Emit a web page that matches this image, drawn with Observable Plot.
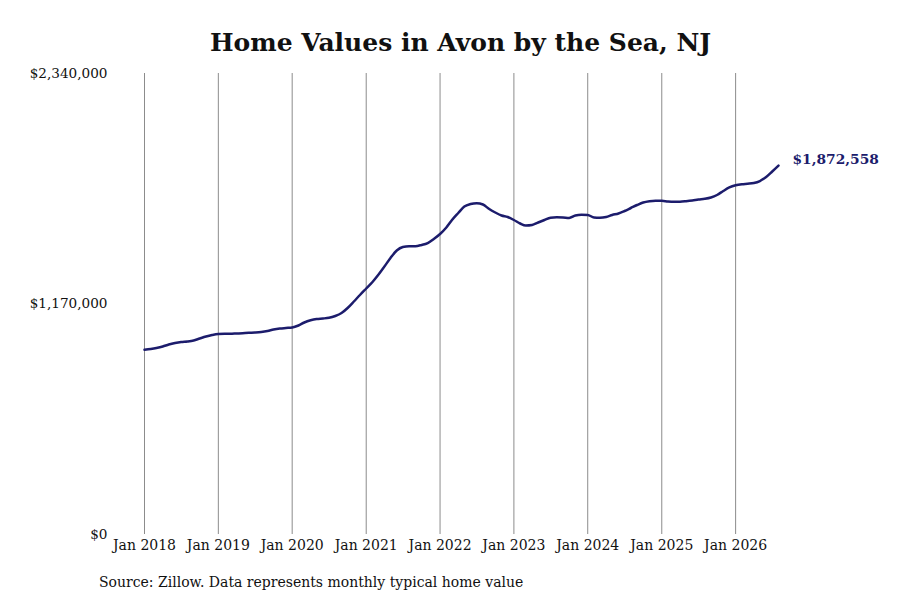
<!DOCTYPE html>
<html>
<head>
<meta charset="utf-8">
<script src="https://cdn.jsdelivr.net/npm/d3@7"></script>
<script src="https://cdn.jsdelivr.net/npm/@observablehq/plot@0.6"></script>
<style>
  body { margin: 0; background: #fff; width: 900px; }
  #title { height: 60px; box-sizing: border-box; padding-top: 28px; padding-left: 21px; line-height: 30px; text-align: center;
           font-family: "DejaVu Serif", serif; font-weight: bold; font-size: 25px; color: #111; }
  #caption { margin-top: 12px; padding-left: 99px; line-height: 20px; font-family: "DejaVu Serif", serif;
             font-size: 14px; color: #111; }
</style>
</head>
<body>
<div id="title">Home Values in Avon by the Sea, NJ</div>
<div id="chart"></div>
<div id="caption">Source: Zillow. Data represents monthly typical home value</div>
<script>
// Monthly typical home value, Jan 2018 – Aug 2026
const startMonth = "2018-01-01";
const values = [
  937500, 941600, 946700, 954300, 964400, 972000, 977100, 979700, 984700, 994900, 1005000, 1012600,
  1017700, 1018700, 1018700, 1020300, 1021800, 1023800, 1025300, 1027900, 1033000, 1040600, 1045600, 1048200,
  1050700, 1060900, 1076100, 1087300, 1093900, 1096400, 1100000, 1109100, 1124300, 1149700, 1182700, 1215700,
  1248700, 1281700, 1317200, 1360400, 1403500, 1441600, 1459300, 1463400, 1463400, 1469500, 1479600, 1499900,
  1525300, 1558300, 1596400, 1631900, 1664900, 1677600, 1681700, 1675100, 1652200, 1634400, 1619200, 1611600,
  1596400, 1578600, 1568500, 1571000, 1583700, 1596400, 1608100, 1610100, 1609100, 1606500, 1619200, 1622800,
  1621800, 1609100, 1607600, 1611600, 1621800, 1629400, 1642100, 1657300, 1672500, 1685200, 1691800, 1694400,
  1693800, 1690300, 1688800, 1689300, 1691800, 1695400, 1700400, 1704000, 1710600, 1723300, 1743600, 1761400,
  1772500, 1778100, 1780600, 1784200, 1794300, 1814600, 1842600, 1872558
];
const xTickLabels = ["2018", "2019", "2020", "2021", "2022", "2023", "2024", "2025", "2026"];
const yTicks = [0, 1170000, 2340000];
const endLabel = "$1,872,558";

const start = new Date(startMonth + "T00:00:00Z");
const data = values.map((v, i) => ({ date: d3.utcMonth.offset(start, i), value: v }));
const last = data[data.length - 1];
const xTicks = xTickLabels.map(y => new Date(y + "-01-01T00:00:00Z"));
const lineColor = "#1c1c6c";

const chart = Plot.plot({
  width: 900,
  height: 500,
  marginTop: 13,
  marginBottom: 26,
  marginLeft: 110,
  marginRight: 122,
  insetLeft: 34,
  style: { fontFamily: "DejaVu Serif, serif", fontSize: "14px", color: "#111", background: "#fff" },
  x: {
    type: "utc",
    domain: [data[0].date, last.date],
    label: null
  },
  y: {
    domain: [0, 2340000],
    label: null
  },
  marks: [
    Plot.gridX(xTicks, { stroke: "#8c8c8c", strokeOpacity: 1, strokeWidth: 1 }),
    Plot.axisX(xTicks, { tickSize: 0, tickPadding: 6, tickFormat: d3.utcFormat("Jan %Y"), fontSize: 14 }),
    Plot.axisY(yTicks, { tickSize: 0, tickPadding: 3, tickFormat: d => "$" + d3.format(",")(d), fontSize: 13.6 }),
    Plot.lineY(data, { x: "date", y: "value", stroke: lineColor, strokeWidth: 2.5, curve: "monotone-x" }),
    Plot.text([last], { x: "date", y: "value", text: () => endLabel, textAnchor: "start", dx: 14, dy: -6,
                        fill: lineColor, fontWeight: "bold", fontSize: 13.8 })
  ]
});
document.getElementById("chart").appendChild(chart);
</script>
</body>
</html>
